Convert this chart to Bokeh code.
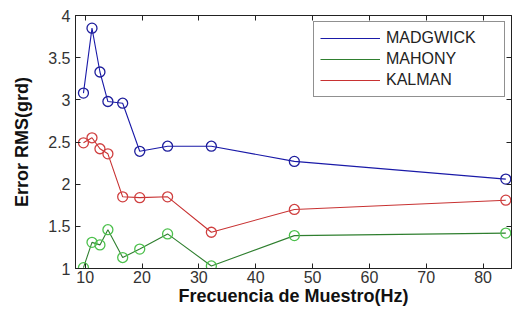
from bokeh.plotting import figure
from bokeh.models import LinearAxis, Range1d, FixedTicker, Legend, LegendItem
from bokeh.embed import file_html
from bokeh.resources import INLINE

freq = [9.7, 11.2, 12.6, 14.0, 16.6, 19.6, 24.5, 32.2, 46.8, 84.0]
madgwick = [3.08, 3.85, 3.33, 2.98, 2.96, 2.39, 2.45, 2.45, 2.27, 2.06]
mahony = [1.01, 1.31, 1.28, 1.46, 1.13, 1.23, 1.41, 1.03, 1.39, 1.42]
kalman = [2.49, 2.55, 2.42, 2.36, 1.85, 1.84, 1.85, 1.43, 1.70, 1.81]
series_names = ["MADGWICK", "MAHONY", "KALMAN"]
x_ticks = [10, 20, 30, 40, 50, 60, 70, 80]
y_ticks = [1, 1.5, 2, 2.5, 3, 3.5, 4]

FONT = "Liberation Sans"
p = figure(width=514, height=308, output_backend="svg", toolbar_location=None,
           x_range=Range1d(8.3, 85), y_range=Range1d(1, 4),
           min_border_left=75, min_border_right=3, min_border_top=15, min_border_bottom=35)
p.grid.visible = False
p.outline_line_color = "#222222"
p.background_fill_color = "white"
p.border_fill_color = "white"

for ax in p.xaxis + p.yaxis:
    ax.major_tick_in = 5
    ax.major_tick_out = 0
    ax.minor_tick_line_color = None
    ax.axis_line_color = "#222222"
    ax.major_tick_line_color = "#222222"
    ax.major_label_text_font = FONT
    ax.major_label_text_font_size = "16px"
    ax.major_label_text_color = "#333333"
    ax.axis_label_text_font = FONT
    ax.axis_label_text_font_style = "bold"
    ax.axis_label_text_font_size = "18px"
    ax.axis_label_text_color = "#111111"

p.xaxis.ticker = FixedTicker(ticks=x_ticks)
p.yaxis.ticker = FixedTicker(ticks=y_ticks)
p.xaxis.axis_label = "Frecuencia de Muestro(Hz)"
p.yaxis.axis_label = "Error RMS(grd)"
p.xaxis.major_label_standoff = 2
p.xaxis.axis_label_standoff = 0
p.yaxis.major_label_standoff = 5
p.yaxis.axis_label_standoff = 13

top = LinearAxis(ticker=FixedTicker(ticks=x_ticks), major_label_text_color=None,
                 major_tick_in=5, major_tick_out=0, minor_tick_line_color=None,
                 axis_line_color="#222222", major_tick_line_color="#222222")
right = LinearAxis(ticker=FixedTicker(ticks=y_ticks), major_label_text_color=None,
                   major_tick_in=5, major_tick_out=0, minor_tick_line_color=None,
                   axis_line_color="#222222", major_tick_line_color="#222222")
top.major_label_text_font_size = "0px"
right.major_label_text_font_size = "0px"
p.add_layout(top, "above")
p.add_layout(right, "right")

line_colors = ["#1a1aa8", "#2f7f2f", "#c83232"]
marker_colors = ["#1e1e9c", "#4cc04c", "#d04040"]
data = [madgwick, mahony, kalman]
items = []
for name, ys, lc, mc in zip(series_names, data, line_colors, marker_colors):
    r = p.line(freq, ys, line_color=lc, line_width=1.1)
    p.scatter(freq, ys, marker="circle", size=10, fill_color=None, line_color=mc, line_width=1.3)
    items.append(LegendItem(label=name, renderers=[r]))

legend = Legend(items=items, location="top_right")
legend.label_text_font = FONT
legend.label_text_font_size = "16px"
legend.label_text_color = "#222222"
legend.glyph_width = 60
legend.glyph_height = 20
legend.label_height = 20
legend.label_width = 112
legend.spacing = 1
legend.padding = 6
legend.margin = 6
legend.label_standoff = 6
legend.border_line_color = "#222222"
legend.border_line_width = 1
legend.background_fill_color = "white"
p.add_layout(legend)

open("out.html", "w").write(file_html(p, INLINE))
